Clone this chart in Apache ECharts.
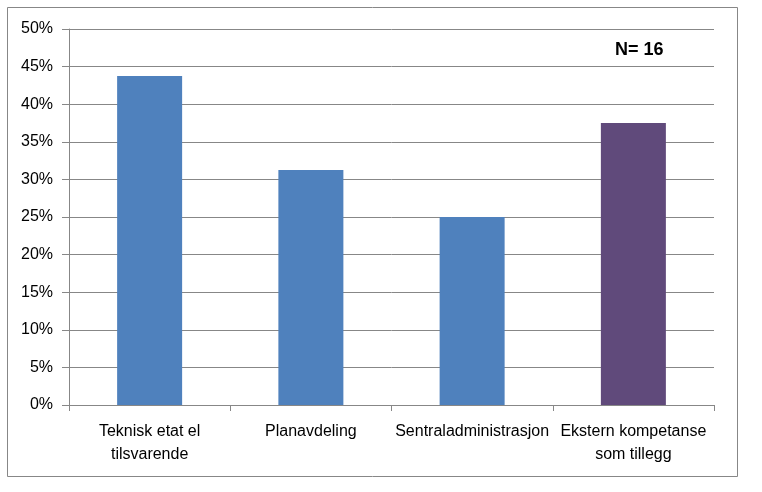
<!DOCTYPE html>
<html><head><meta charset="utf-8">
<script src="https://cdn.jsdelivr.net/npm/echarts@6/dist/echarts.min.js"></script>
<style>html,body{margin:0;padding:0;background:#fff}#c{width:762px;height:492px}</style>
</head><body><div id="c"></div>
<script>
const categories = ['Teknisk etat el\ntilsvarende', 'Planavdeling', 'Sentraladministrasjon', 'Ekstern kompetanse\nsom tillegg'];
const values = [43.75, 31.25, 25, 37.5];
const barColors = ['#4F81BD', '#4F81BD', '#4F81BD', '#604A7B'];
const yTicks = [0, 5, 10, 15, 20, 25, 30, 35, 40, 45, 50];
const nLabel = 'N= 16';

const font = '"Liberation Sans", Arial, sans-serif';
const chart = echarts.init(document.getElementById('c'), null, {renderer: 'canvas'});
chart.setOption({
  animation: false,
  backgroundColor: '#fff',
  graphic: [
    {type: 'rect', shape: {x: 7.5, y: 7.5, width: 730, height: 469}, style: {fill: 'none', stroke: '#878787', lineWidth: 1}, z: -1},
    {type: 'text', left: 615, top: 41, style: {text: nLabel, font: 'bold 18px ' + font, fill: '#000'}}
  ],
  grid: {left: 69, right: 48, top: 29, bottom: 87, containLabel: false},
  xAxis: {
    type: 'category', data: categories,
    axisLine: {lineStyle: {color: '#878787', width: 1}},
    axisTick: {show: true, length: 6, alignWithLabel: false, lineStyle: {color: '#878787'}},
    axisLabel: {color: '#000', fontSize: 16, fontFamily: font, margin: 15, lineHeight: 23, interval: 0},
    splitLine: {show: false}
  },
  yAxis: {
    type: 'value', min: yTicks[0], max: yTicks[yTicks.length - 1], interval: 5,
    axisLine: {show: true, lineStyle: {color: '#878787'}},
    axisTick: {show: true, length: 7, lineStyle: {color: '#878787'}},
    axisLabel: {color: '#000', fontSize: 16, fontFamily: font, margin: 16, formatter: v => v + '%'},
    splitLine: {lineStyle: {color: '#878787', width: 1}}
  },
  series: [{
    type: 'bar', barWidth: 65,
    data: values.map((v, i) => ({value: v, itemStyle: {color: barColors[i]}}))
  }]
});
</script></body></html>
